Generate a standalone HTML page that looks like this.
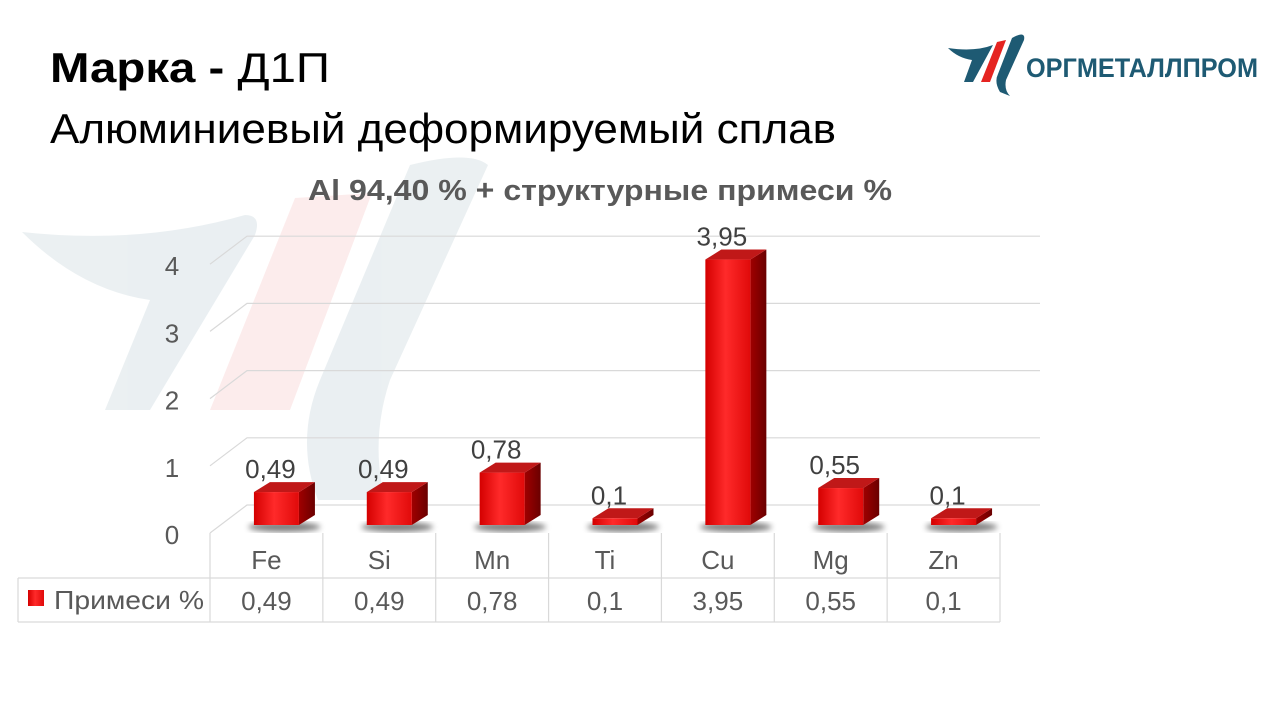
<!DOCTYPE html>
<html><head><meta charset="utf-8">
<style>
body{margin:0;width:1280px;height:720px;background:#fff;overflow:hidden;font-family:"Liberation Sans","Noto Sans CJK SC",sans-serif;}
svg{position:absolute;left:0;top:0}
</style></head><body>
<svg width="1280" height="720">
<defs>
<linearGradient id="gf" x1="0" x2="1" y1="0" y2="0"><stop offset="0" stop-color="#d40000"/><stop offset="0.45" stop-color="#ff2a2a"/><stop offset="1" stop-color="#e00a0a"/></linearGradient>
<linearGradient id="gs" x1="0" x2="1"><stop offset="0" stop-color="#a00000"/><stop offset="1" stop-color="#6a0000"/></linearGradient>
<filter id="blur"><feGaussianBlur stdDeviation="3"/></filter>
</defs>
<g opacity="0.6">
<path d="M22,232 Q140,245 245,215 Q262,215 255,235 L150,410 L105,410 L150,300 Q80,290 22,232Z" fill="#dde6ea"/>
<path d="M295,198 L372,193 L290,410 L210,410Z" fill="#fbe0e0"/>
<path d="M410,165 Q470,150 488,165 L390,380 Q370,440 385,500 L318,500 Q295,440 320,380Z" fill="#dde6ea"/>
</g>
<text x="50" y="82" font-size="42" fill="#000" textLength="280" lengthAdjust="spacingAndGlyphs"><tspan font-weight="bold">Марка - </tspan>Д1П</text>
<text x="50" y="143" font-size="42" fill="#000" textLength="786" lengthAdjust="spacingAndGlyphs">Алюминиевый деформируемый сплав</text>
<text x="308" y="200" font-size="29" font-weight="bold" fill="#595959" textLength="584" lengthAdjust="spacingAndGlyphs">Al 94,40 % + структурные примеси %</text>
<g>
<path d="M948,48 Q975,52 993,45 L973,82 L964,82 L972,60 Q958,58 948,48Z" fill="#1e5a73"/>
<path d="M997,42 L1006,40 L990,82 L981,82Z" fill="#e52421"/>
<path d="M1012,38 Q1026,30 1024,40 L1006,80 Q1004,90 1010,96 L1000,92 Q994,82 998,74Z" fill="#1e5a73"/>
<text x="1026" y="77" font-size="27" font-weight="bold" fill="#1e5a73" textLength="232" lengthAdjust="spacingAndGlyphs">ОРГМЕТАЛЛПРОМ</text>
</g>
<g id="grid"></g>
<g id="bars"></g>
<g id="table"></g>
</svg>
<script>
const categories=["Fe","Si","Mn","Ti","Cu","Mg","Zn"];
const values=[0.49,0.49,0.78,0.1,3.95,0.55,0.1];
const labels=["0,49","0,49","0,78","0,1","3,95","0,55","0,1"];
const ticks=[0,1,2,3,4];
const NS="http://www.w3.org/2000/svg";
function mk(t,a,p,txt){const e=document.createElementNS(NS,t);for(const k in a)e.setAttribute(k,a[k]);if(txt!==undefined)e.textContent=txt;p.appendChild(e);return e;}
const X0=210,X1=1000,colW=(X1-X0)/categories.length,DX=37,DY=-28,unit=67.2,floorF=533;
const yF=v=>floorF-v*unit;
const grid=document.getElementById('grid'),bars=document.getElementById('bars'),tbl=document.getElementById('table');
ticks.forEach(t=>{
 const y=yF(t);
 const l=mk('path',{d:`M${X0},${y} L${X0+DX},${y+DY} L${X1+DX+3},${y+DY}`,stroke:'#d9d9d9','stroke-width':1.2,fill:'none'},grid);
 
 
 const tx=mk('text',{x:172,y:y+11,'font-size':26,fill:'#595959','text-anchor':'middle'},grid,String(t));
 
 
});
const bw=45,bdx=16,bdy=-10,base=525;
categories.forEach((c,i)=>{
 const cx=X0+colW*(i+0.5)+10,x=cx-bw/2,h=values[i]*unit,top=base-h;
 const g=mk('g',{},bars);
 
 
 mk('ellipse',{cx:cx+8,cy:base+2,rx:bw*0.8,ry:5,fill:'#000',opacity:0.5,filter:'url(#blur)'},g);
 mk('path',{d:`M${x+bw},${base} L${x+bw+bdx},${base+bdy} L${x+bw+bdx},${top+bdy} L${x+bw},${top}Z`,fill:'url(#gs)'},g);
 mk('path',{d:`M${x},${top} L${x+bdx},${top+bdy} L${x+bw+bdx},${top+bdy} L${x+bw},${top}Z`,fill:'#c01818'},g);
 mk('rect',{x:x,y:top,width:bw,height:h,fill:'url(#gf)'},g);
 const lt=mk('text',{x:cx-6,y:top+bdy-4,'font-size':26,fill:'#404040','text-anchor':'middle'},bars,labels[i]);
 
 
});
const r0=533,r1=578,r2=622,L=18;
const st={stroke:'#d9d9d9','stroke-width':1.2};
mk('line',Object.assign({x1:X0,y1:r0,x2:X0,y2:r2},st),tbl);
mk('line',Object.assign({x1:L,y1:r1,x2:X1,y2:r1},st),tbl);
mk('line',Object.assign({x1:L,y1:r2,x2:X1,y2:r2},st),tbl);
mk('line',Object.assign({x1:L,y1:r1,x2:L,y2:r2},st),tbl);
categories.forEach((c,i)=>{
 const xr=X0+colW*(i+1);
 mk('line',Object.assign({x1:xr,y1:r0,x2:xr,y2:r2},st),tbl);
 const ct=mk('text',{x:X0+colW*(i+0.5),y:569,'font-size':26,fill:'#595959','text-anchor':'middle'},tbl,c);
 
 
 const vt=mk('text',{x:X0+colW*(i+0.5),y:610,'font-size':26,fill:'#595959','text-anchor':'middle'},tbl,labels[i]);
 
 
});
const lk=mk('rect',{x:28,y:590,width:16,height:16,fill:'url(#gf)'},tbl);


const lg=mk('text',{x:54,y:609,'font-size':26,fill:'#595959',textLength:150,lengthAdjust:'spacingAndGlyphs'},tbl,'Примеси %');


</script>
</body></html>
